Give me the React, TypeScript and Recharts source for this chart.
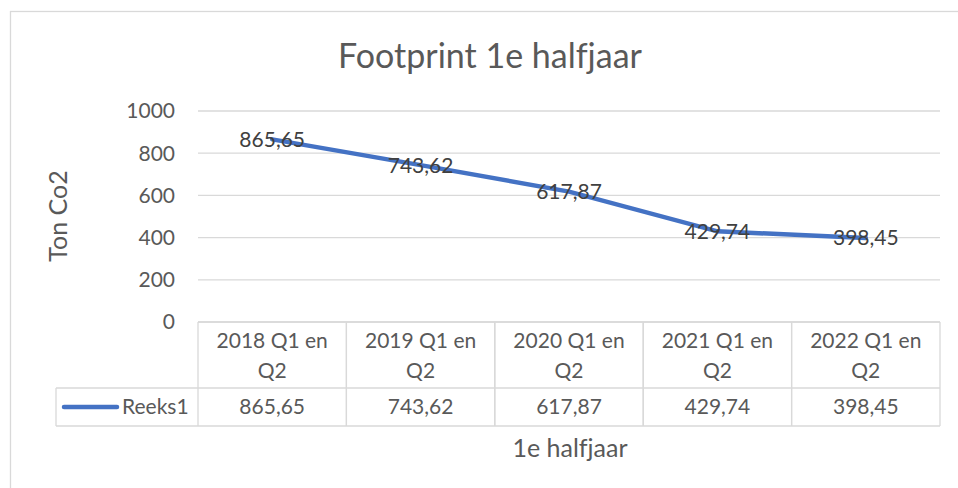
import React from 'react';
import {
  LineChart, Line, XAxis, YAxis, CartesianGrid, LabelList, Customized
} from 'recharts';

const categories = ['2018 Q1 en Q2', '2019 Q1 en Q2', '2020 Q1 en Q2', '2021 Q1 en Q2', '2022 Q1 en Q2'];
const values = [865.65, 743.62, 617.87, 429.74, 398.45];
const yTicks = [0, 200, 400, 600, 800, 1000];

const data = categories.map((c, i) => ({ name: c, value: values[i] }));

const FONT = 'Lato, "Noto Sans", sans-serif';
const GREY = '#595959';
const GRID = '#d9d9d9';
const BLUE = '#4472C4';
const FS = 21;
const NOLIG = { fontVariantLigatures: 'none' as const };

// layout
const W = 958;
const H = 488;
const PLOT_LEFT = 198;
const PLOT_RIGHT = 940;
const PLOT_TOP = 111;
const PLOT_BOTTOM = 322;
const BAND = (PLOT_RIGHT - PLOT_LEFT) / categories.length;
const ROW1 = 388;
const ROW2 = 426;
const LEGEND_LEFT = 56;

const fmt = (v: number) => v.toFixed(2).replace('.', ',');

// x axis tick = one column of the data table
const TableTick = (props: any) => {
  const { x, y, payload } = props;
  const label: string = payload.value;
  const parts = label.split(' ');
  const line1 = parts.slice(0, 3).join(' ');
  const line2 = parts.slice(3).join(' ');
  const left = x - BAND / 2;
  const right = x + BAND / 2;
  return (
    <g>
      <line x1={left} y1={y} x2={left} y2={ROW2} stroke={GRID} strokeWidth={1.3} />
      <line x1={right} y1={y} x2={right} y2={ROW2} stroke={GRID} strokeWidth={1.3} />
      <text x={x} y={348} textAnchor="middle" fill={GREY} fontSize={FS} fontFamily={FONT}>{line1}</text>
      <text x={x} y={378} textAnchor="middle" fill={GREY} fontSize={FS} fontFamily={FONT}>{line2}</text>
      <text x={x} y={414} textAnchor="middle" fill={GREY} fontSize={FS} fontFamily={FONT}>
        {fmt(values[payload.index])}
      </text>
    </g>
  );
};

const renderLabel = (props: any) => {
  const { x, y, value } = props;
  return (
    <text x={x} y={y + 7.5} textAnchor="middle" fill="#404040" fontSize={FS} fontFamily={FONT}>
      {fmt(value)}
    </text>
  );
};

const Decorations = () => (
  <g>
    <rect x={10.5} y={11.5} width={960} height={500} fill="none" stroke={GRID} strokeWidth={1.3} />
    <text x={490} y={68} textAnchor="middle" fill={GREY} fontSize={34} fontFamily={FONT} style={NOLIG}>
      Footprint 1e halfjaar
    </text>
    <text x={67} y={216} textAnchor="middle" transform="rotate(-90 67 216)"
      fill={GREY} fontSize={25} fontFamily={FONT}>Ton Co2</text>
    <text x={570} y={457} textAnchor="middle" fill={GREY} fontSize={25} fontFamily={FONT} style={NOLIG}>
      1e halfjaar
    </text>
    {/* table frame */}
    <line x1={PLOT_LEFT} y1={PLOT_BOTTOM} x2={PLOT_RIGHT} y2={PLOT_BOTTOM} stroke={GRID} strokeWidth={1.3} />
    <line x1={LEGEND_LEFT} y1={ROW1} x2={PLOT_RIGHT} y2={ROW1} stroke={GRID} strokeWidth={1.3} />
    <line x1={LEGEND_LEFT} y1={ROW2} x2={PLOT_RIGHT} y2={ROW2} stroke={GRID} strokeWidth={1.3} />
    <line x1={LEGEND_LEFT} y1={ROW1} x2={LEGEND_LEFT} y2={ROW2} stroke={GRID} strokeWidth={1.3} />
    {/* legend key */}
    <line x1={64} y1={407} x2={117} y2={407} stroke={BLUE} strokeWidth={4.5} strokeLinecap="round" />
    <text x={122} y={414} textAnchor="start" fill={GREY} fontSize={FS} fontFamily={FONT}>Reeks1</text>
  </g>
);

export default function App() {
  return (
    <div style={{ position: 'absolute', left: 0, top: 0, width: W, height: H, background: '#fff' }}>
      <LineChart
        width={W}
        height={H}
        data={data}
        margin={{ top: PLOT_TOP, right: W - PLOT_RIGHT, left: 0, bottom: 0 }}
      >
        <CartesianGrid vertical={false} stroke={GRID} strokeWidth={1.3} />
        <XAxis
          dataKey="name"
          height={H - PLOT_BOTTOM}
          axisLine={false}
          tickLine={false}
          tickSize={0}
          tickMargin={0}
          interval={0}
          padding={{ left: BAND / 2, right: BAND / 2 }}
          tick={<TableTick />}
        />
        <YAxis
          width={PLOT_LEFT}
          domain={[0, 1000]}
          ticks={yTicks}
          axisLine={false}
          tickLine={false}
          tickSize={0}
          tickMargin={23}
          tick={{ fill: GREY, fontSize: FS, fontFamily: FONT }}
        />
        <Line
          type="linear"
          dataKey="value"
          stroke={BLUE}
          strokeWidth={4.5}
          strokeLinecap="round"
          dot={false}
          isAnimationActive={false}
        >
          <LabelList dataKey="value" content={renderLabel} />
        </Line>
        <Customized component={Decorations} />
      </LineChart>
    </div>
  );
}
